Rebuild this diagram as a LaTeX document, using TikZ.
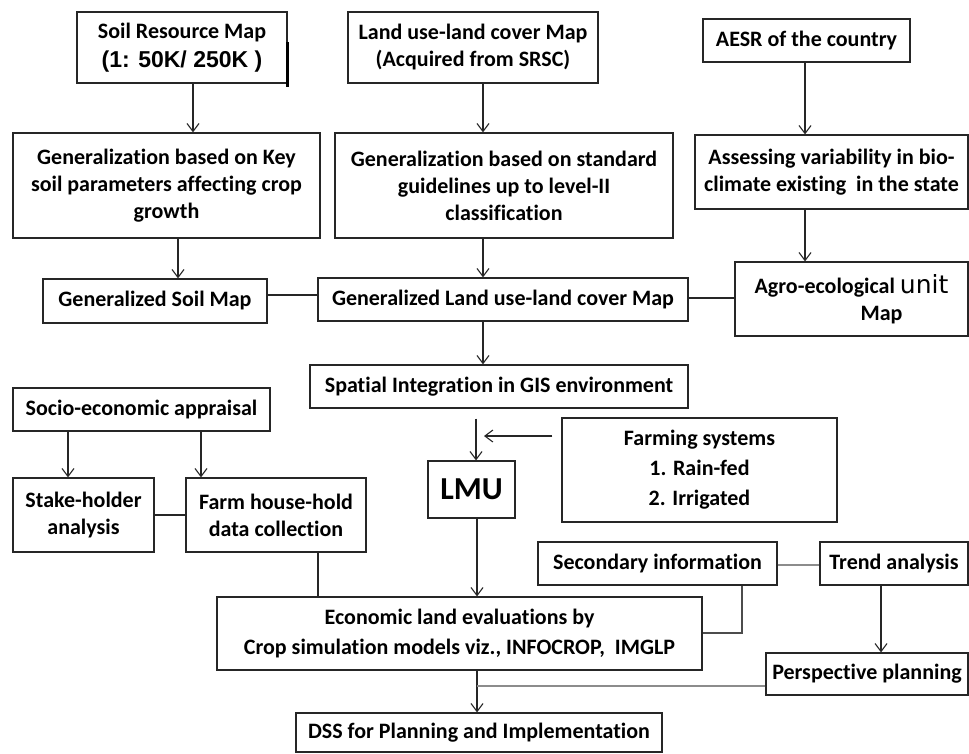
\documentclass[tikz,border=0pt]{standalone}
\usepackage{fontspec}
\setmainfont{Carlito}[Ligatures=NoCommon]
\newfontfamily\arialfont{Liberation Sans}
\newfontfamily\unitfont{DejaVu Sans}
\usetikzlibrary{arrows.meta}
\begin{document}
\begin{tikzpicture}[x=1pt,y=-1pt,
  box/.style={draw=black!85,line width=1.2pt,inner sep=0pt,align=center,
    font=\fontsize{22pt}{27pt}\selectfont\bfseries},
  arr/.style={draw=black!85,line width=1.1pt,-{Straight Barb[length=8pt,width=12pt,line width=1.1pt]}},
  ln/.style={draw=black!85,line width=1.1pt},
  gln/.style={draw=black!45,line width=1.3pt}]
\useasboundingbox[fill=white] (0,0) rectangle (969,753);

% top row
\node[box,minimum width=210pt,minimum height=71pt] (srm) at (182,47.5)
  {Soil Resource Map\\[2pt]{\arialfont\fontsize{23pt}{27pt}\selectfont (1: 50K/ 250K )}};
\node[box,minimum width=250pt,minimum height=71pt] (lulc) at (473,47.5)
  {Land use-land cover Map\\(Acquired from SRSC)};
\node[box,minimum width=207pt,minimum height=43pt] (aesr) at (806.5,40.5)
  {AESR of the country};

% second row
\node[box,minimum width=307pt,minimum height=105pt] (gsoil) at (166.5,185.5)
  {Generalization based on Key\\soil parameters affecting crop\\growth};
\node[box,minimum width=338pt,minimum height=105pt] (gstd) at (504,185.5)
  {Generalization based on standard\\guidelines up to level-II\\classification};
\node[box,minimum width=273pt,minimum height=74pt] (assess) at (831.5,172)
  {Assessing variability in bio-\\climate existing\ \ in the state};

% third row
\node[box,minimum width=224pt,minimum height=44pt] (gsm) at (155,301)
  {Generalized Soil Map};
\node[box,minimum width=370pt,minimum height=43pt] (glulc) at (503,299.5)
  {Generalized Land use-land cover Map};
\node[box,minimum width=233pt,minimum height=74pt] (agro) at (851.5,299)
  {Agro-ecological {\unitfont\mdseries\fontsize{25pt}{27pt}\selectfont unit}\\\hspace*{60pt}Map};

% middle
\node[box,minimum width=378pt,minimum height=43pt] (spatial) at (499,386.5)
  {Spatial Integration in GIS environment};
\node[box,minimum width=257pt,minimum height=43pt] (socio) at (141.5,409.5)
  {Socio-economic appraisal};
\node[box,minimum width=141pt,minimum height=74pt] (stake) at (83.5,515)
  {Stake-holder\\analysis};
\node[box,minimum width=180pt,minimum height=74pt] (farm) at (276,515)
  {Farm house-hold\\data collection};
\node[box,minimum width=87pt,minimum height=57pt,font=\fontsize{32pt}{36pt}\selectfont\bfseries] (lmu) at (471.5,489.5)
  {LMU};
\node[box,minimum width=275pt,minimum height=104pt,font=\fontsize{22pt}{30pt}\selectfont\bfseries] (farming) at (699.5,470)
  {Farming systems\\1. Rain-fed\\2. Irrigated};

% lower
\node[box,minimum width=239pt,minimum height=43pt] (second) at (657.5,563.5)
  {Secondary information};
\node[box,minimum width=148pt,minimum height=43pt] (trend) at (894,563.5)
  {Trend analysis};
\node[box,minimum width=485pt,minimum height=73pt,font=\fontsize{22pt}{29pt}\selectfont\bfseries] (econ) at (459.5,633.5)
  {Economic land evaluations by\\Crop simulation models viz., INFOCROP,\ \ IMGLP};
\node[box,minimum width=202pt,minimum height=42pt] (persp) at (867,674)
  {Perspective planning};
\node[box,minimum width=366pt,minimum height=39pt] (dss) at (479,732.5)
  {DSS for Planning and Implementation};

% thick stroke on the right side of the first box
\draw[draw=black,line width=2.4pt] (srm.east |- 0,42) -- (srm.east |- 0,87);

% connectors
\draw[arr] (srm.south -| 193,0) -- (gsoil.north -| 193,0);
\draw[arr] (lulc.south -| 483,0) -- (gstd.north -| 483,0);
\draw[arr] (aesr.south -| 805,0) -- (assess.north -| 805,0);
\draw[arr] (gsoil.south -| 178,0) -- (gsm.north -| 178,0);
\draw[arr] (gstd.south -| 483,0) -- (glulc.north -| 483,0);
\draw[arr] (assess.south -| 805,0) -- (agro.north -| 805,0);
\draw[ln] (gsm.east |- 0,295) -- (glulc.west |- 0,295);
\draw[ln] (glulc.east |- 0,298) -- (agro.west |- 0,298);
\draw[arr] (glulc.south -| 483,0) -- (spatial.north -| 483,0);
\draw[arr,shorten <=10pt] (spatial.south -| 476,0) -- (lmu.north -| 476,0);
\coordinate (fsend) at (484,436);
\draw[arr,shorten <=9pt] (farming.west |- fsend) -- (fsend);
\draw[arr] (socio.south -| 68,0) -- (stake.north -| 68,0);
\draw[arr] (socio.south -| 201,0) -- (farm.north -| 201,0);
\draw[ln] (stake.east |- 0,515) -- (farm.west |- 0,515);
\draw[ln] (farm.south -| 318,0) -- (econ.north -| 318,0);
\draw[arr] (lmu.south -| 477,0) -- (econ.north -| 477,0);
\draw[gln] (second.east |- 0,565) -- (trend.west |- 0,565);
\draw[draw=black!70,line width=1.2pt] (second.south -| 742,0) -- (742,633) -- (econ.east |- 0,633);
\draw[arr] (trend.south -| 881,0) -- (persp.north -| 881,0);
\draw[arr] (econ.south -| 477,0) -- (dss.north -| 477,0);
\coordinate (pjoin) at (477,686);
\draw[gln] (persp.west |- pjoin) -- (pjoin);
\end{tikzpicture}
\end{document}
